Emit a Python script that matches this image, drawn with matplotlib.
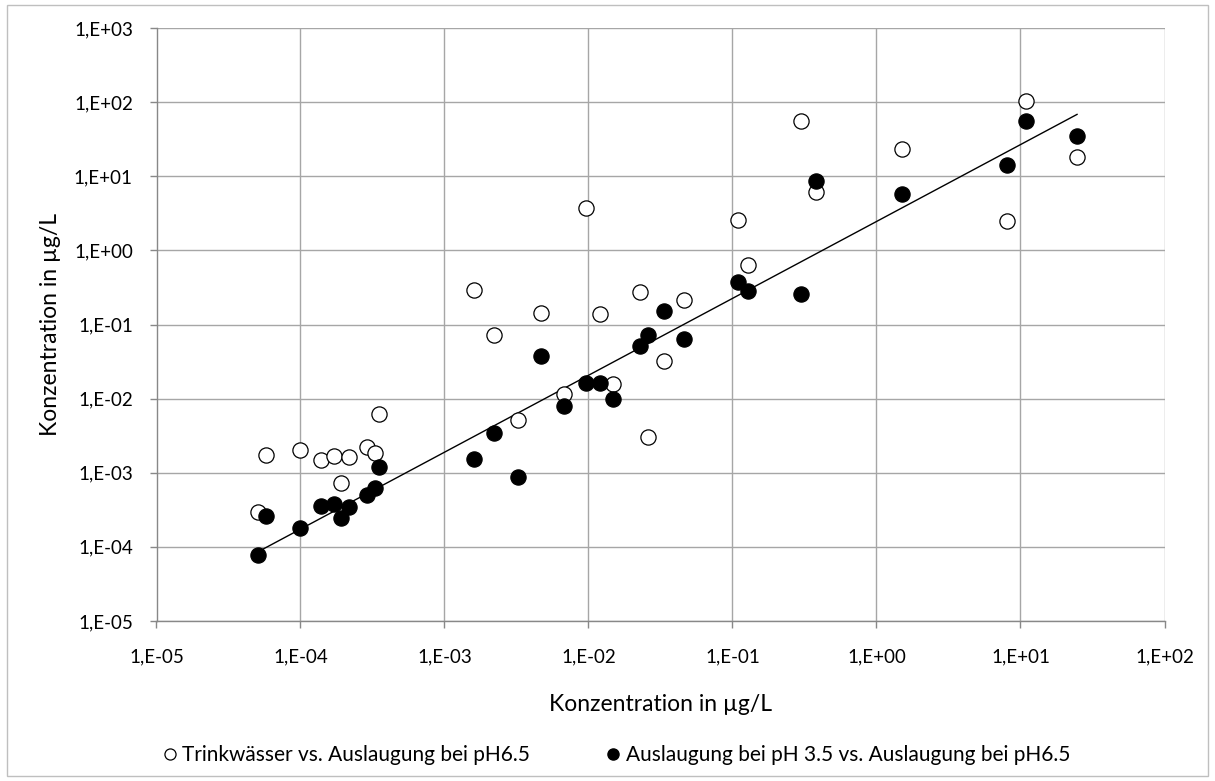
import numpy as np
import matplotlib
matplotlib.use("Agg")
import matplotlib.pyplot as plt
from matplotlib.patches import Rectangle
from matplotlib.lines import Line2D

# x: Auslaugung bei pH6.5 (shared by both series)
x_vals = [5.1e-5, 5.8e-5, 1.0e-4, 1.39e-4, 1.70e-4, 1.90e-4, 2.18e-4, 2.90e-4, 3.31e-4, 3.49e-4,
          1.60e-3, 2.20e-3, 3.24e-3, 4.68e-3, 6.73e-3, 9.55e-3,
          0.0120, 0.01486, 0.0228, 0.0258, 0.0337, 0.046, 0.1096, 0.128,
          0.298, 0.379, 1.50, 8.10, 10.9, 24.7]
# open circles: Trinkwässer
y_trink = [2.97e-4, 1.73e-3, 2.0e-3, 1.49e-3, 1.69e-3, 7.3e-4, 1.61e-3, 2.26e-3, 1.86e-3, 6.18e-3,
           0.288, 0.0726, 5.18e-3, 0.141, 0.0115, 3.69,
           0.138, 0.0157, 0.271, 3.05e-3, 0.0321, 0.213, 2.54, 0.640,
           55.1, 6.18, 23.1, 2.48, 104.0, 18.2]
# filled circles: Auslaugung bei pH 3.5
y_ph35 = [7.8e-5, 2.57e-4, 1.79e-4, 3.54e-4, 3.73e-4, 2.49e-4, 3.47e-4, 5.04e-4, 6.14e-4, 1.19e-3,
          1.51e-3, 3.42e-3, 8.65e-4, 0.0378, 8.0e-3, 0.016,
          0.016, 9.85e-3, 0.0506, 0.0719, 0.153, 0.064, 0.377, 0.285,
          0.257, 8.53, 5.70, 14.3, 55.1, 34.9]

x_ticks = [1e-5, 1e-4, 1e-3, 1e-2, 1e-1, 1e0, 1e1, 1e2]
x_ticklabels = ["1,E-05", "1,E-04", "1,E-03", "1,E-02", "1,E-01", "1,E+00", "1,E+01", "1,E+02"]
y_ticks = [1e-5, 1e-4, 1e-3, 1e-2, 1e-1, 1e0, 1e1, 1e2, 1e3]
y_ticklabels = ["1,E-05", "1,E-04", "1,E-03", "1,E-02", "1,E-01", "1,E+00", "1,E+01", "1,E+02", "1,E+03"]

plt.rcParams['font.family'] = ['Lato', 'DejaVu Sans']

fig = plt.figure(figsize=(12.15, 7.81), dpi=100)
ax = fig.add_axes([156.5/1215, 1-621/781, (1164.5-156.5)/1215, (621-28)/781])

xa = np.array(x_vals)
yt = np.array(y_trink)
yp = np.array(y_ph35)

ax.scatter(xa, yt, s=120, facecolors='white', edgecolors='black', linewidths=0.9, zorder=3)
ax.scatter(xa, yp, s=120, facecolors='black', edgecolors='black', linewidths=0.9, zorder=4)

# power trendline (fit on filled series)
b, a = np.polyfit(np.log10(xa), np.log10(yp), 1)
xl = np.logspace(np.log10(xa.min()), np.log10(xa.max()), 100)
ax.plot(xl, 10**a * xl**b, color='black', lw=1.0, zorder=2)

ax.set_xscale('log')
ax.set_yscale('log')
ax.set_xlim(1e-5, 1e2)
ax.set_ylim(1e-5, 1e3)
ax.set_xticks(x_ticks)
ax.set_xticklabels(x_ticklabels)
ax.set_yticks(y_ticks)
ax.set_yticklabels(y_ticklabels)
ax.minorticks_off()
ax.tick_params(axis='both', which='major', length=5, width=1, color='#888888', labelsize=13.5, direction='out')
ax.tick_params(axis='x', pad=15)
ax.tick_params(axis='y', pad=12)
ax.grid(True, which='major', color='#a6a6a6', lw=1.0, zorder=0)
ax.set_axisbelow(True)
for s in ['top', 'right']:
    ax.spines[s].set_visible(False)
for s in ['left', 'bottom']:
    ax.spines[s].set_color('#888888')
    ax.spines[s].set_linewidth(1.0)

ax.set_xlabel("Konzentration in µg/L", fontsize=16.5, labelpad=20)
ax.set_ylabel("Konzentration in µg/L", fontsize=16.5, labelpad=9)

handles = [Line2D([], [], marker='o', ls='none', markerfacecolor='white', markeredgecolor='black', markersize=8, markeredgewidth=0.9),
           Line2D([], [], marker='o', ls='none', markerfacecolor='black', markeredgecolor='black', markersize=8)]
fig.legend(handles, ["Trinkwässer vs. Auslaugung bei pH6.5", "Auslaugung bei pH 3.5 vs. Auslaugung bei pH6.5"],
           loc='center', bbox_to_anchor=(0.506, 1-755/781), ncol=2, frameon=False, fontsize=15,
           handletextpad=0.1, columnspacing=3.5, handlelength=1.0)

fig.patches.append(Rectangle((7/1215, 5/781), 1201/1215, 771/781, transform=fig.transFigure,
                             fill=False, edgecolor='#bfbfbf', lw=1.0))

fig.savefig("out.png", dpi=100)
